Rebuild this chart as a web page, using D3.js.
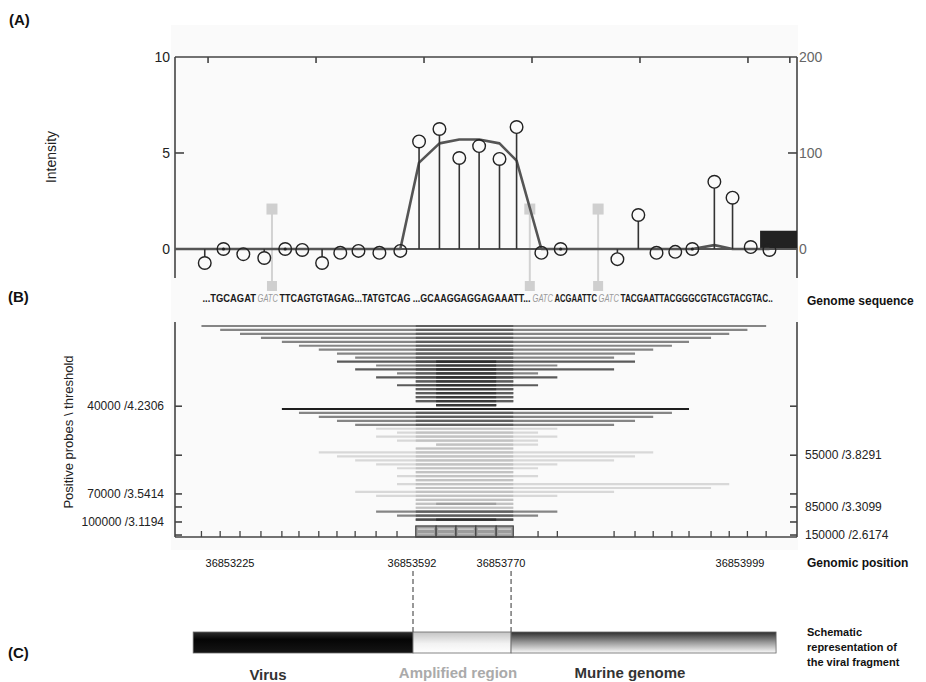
<!DOCTYPE html>
<html>
<head>
<meta charset="utf-8">
<script src="https://cdn.jsdelivr.net/npm/d3@7"></script>
<style>body{margin:0;background:#fff}</style>
</head>
<body>
<div id="canvas"></div>
<script>
const canvWidth = 926, canvHeight = 682;

// probe start positions (bp) along the tiled region
const probeStart = [36853208, 36853242, 36853278, 36853316, 36853354, 36853385, 36853421,
    36853454, 36853487, 36853525, 36853563, 36853597, 36853634, 36853670, 36853706,
    36853743, 36853774, 36853819, 36853854, 36853957, 36853995, 36854028, 36854062,
    36854093, 36854133, 36854166, 36854199, 36854233];
// probe intensity (left axis)
const intensity = [-0.73, 0, -0.27, -0.47, 0, -0.05, -0.73, -0.2, -0.1, -0.2, -0.1,
    5.6, 6.25, 4.74, 5.36, 4.69, 6.35, -0.2, 0, -0.53, 1.77, -0.2, -0.15, 0, 3.5, 2.67, 0.1, -0.05];
// smoothed signal (right axis)
const smoothed = [0, 0, 0, 0, 0, 0, 0, 0, 0, 0, 0, 90, 110, 114, 114, 110, 92, 0, 0, 0, 0, 0, 0, 0, 4, 0, 0, 0];
const gatcSites = [36853336, 36853804, 36853928];
const gatcLevel = 2.08;
const topTicks = [36853220, 36853416, 36853612, 36853808, 36854004, 36854200, 36854276];
const blockStart = 36854222, blockEnd = 36854289, blockValue = 19;

// panel B: one row per positive probe run (probe indices), tone 0 black .. 3 light
const rowLeft  = [0, 1, 2, 3, 4, 5, 6, 7, 8, 7, 9, 8, 10, 9, 11, 10, 11, 11, 11, 11, 12,
    4, 5, 6, 7, 8, 9, 10, 9, 10, 12, 11, 6, 7, 8, 9, 10, 11, 10, 11, 10, 11, 8, 9, 11, 11, 11, 9, 10, 11];
const rowRight = [27, 26, 25, 24, 23, 22, 21, 20, 19, 20, 18, 19, 17, 18, 16, 17, 16, 16, 16, 16, 15,
    23, 22, 21, 20, 19, 18, 17, 18, 17, 17, 16, 21, 20, 19, 18, 17, 16, 17, 16, 25, 24, 19, 18, 16, 16, 16, 18, 17, 16];
const rowTone  = [2, 2, 2, 2, 2, 2, 2, 2, 2, 1, 2, 1, 2, 1, 2, 1, 2, 2, 2, 2, 2,
    0, 2, 2, 2, 2, 3, 3, 3, 3, 3, 3, 3, 3, 3, 3, 3, 3, 3, 3, 3, 3, 3, 3, 3, 3, 3, 2, 2, 1];
const rowCore  = [0, 0, 0, 0, 0, 0, 0, 0, 0, 1, 1, 1, 1, 1, 1, 1, 1, 1, 1, 1, 1,
    0, 0, 0, 0, 0, 0, 0, 0, 0, 0, 0, 0, 0, 0, 0, 0, 0, 0, 0, 0, 0, 0, 0, 0, 1, 0, 0, 0, 1];
const thresholdRow = [20.3, 32.7, 42.5, 45.8, 49.6, 52.9];
const thresholdLeft = ["40000 /4.2306", "", "70000 /3.5414", "", "100000 /3.1194", ""];
const thresholdRight = ["", "55000 /3.8291", "", "85000 /3.3099", "", "150000 /2.6174"];
const ampStart = 36853592, ampEnd = 36853770;
const fragmentStart = 36853193, fragmentEnd = 36854251;
const positionLabels = ["36853225", "36853592", "36853770", "36853999"];
const sequence = [["...TGCAGAT", 0], ["GATC", 1], ["TTCAGTGTAGAG...TATGTCAG ...GCAAGGAGGAGAAATT...", 0],
    ["GATC", 1], ["ACGAATTC", 0], ["GATC", 1], ["TACGAATTACGGGCGTACGTACGTAC..", 0]];

const font = "'Liberation Sans', Arial, sans-serif";
const svg = d3.select("#canvas").append("svg")
    .attr("width", canvWidth)
    .attr("height", canvHeight)
    .style("font-family", font);

const x = d3.scaleLinear().domain([36853160, 36854289]).range([175, 797]);
const yL = d3.scaleLinear().domain([-1.6, 10]).range([279.7, 57]);
const yR = d3.scaleLinear().domain([-32, 200]).range([279.7, 57]);
const yRow = d3.scaleLinear().domain([0, 53.4]).range([326, 537]);
const probeX = i => x(probeStart[i] + 6);

svg.append("rect").attr("x", 171).attr("y", 25).attr("width", 627).attr("height", 525)
    .attr("fill", "#fafafa");

function label(t, px, py, opts) {
    const e = svg.append("text").attr("x", px).attr("y", py).text(t)
        .attr("font-size", opts.size || 12).attr("fill", opts.fill || "#222");
    if (opts.anchor) e.attr("text-anchor", opts.anchor);
    if (opts.bold) e.attr("font-weight", "bold");
    if (opts.rotate) e.attr("transform", "rotate(-90," + px + "," + py + ")");
    return e;
}
label("(A)", 9, 25, {size: 15, bold: true, fill: "#111"});
label("(B)", 8, 302, {size: 15, bold: true, fill: "#111"});
label("(C)", 8, 658, {size: 15, bold: true, fill: "#111"});

// ---------- panel A ----------
const axisCol = "#444";
const frame = svg.append("g").attr("stroke", axisCol).attr("stroke-width", 1.6);
frame.append("line").attr("x1", 175).attr("x2", 797).attr("y1", yL(10)).attr("y2", yL(10));
frame.append("line").attr("x1", 175).attr("x2", 175).attr("y1", yL(10)).attr("y2", 278);
frame.append("line").attr("x1", 797).attr("x2", 797).attr("y1", yL(10)).attr("y2", 278);
frame.append("line").attr("x1", 175).attr("x2", 184).attr("y1", yL(5)).attr("y2", yL(5));
frame.append("line").attr("x1", 788).attr("x2", 797).attr("y1", yR(100)).attr("y2", yR(100));
frame.selectAll(".tt").data(topTicks).enter().append("line")
    .attr("x1", d => x(d)).attr("x2", d => x(d)).attr("y1", yL(10)).attr("y2", yL(10) + 6);

[10, 5, 0].forEach(v => label(String(v), 170, yL(v) + 5, {size: 14, anchor: "end", fill: "#222"}));
[200, 100, 0].forEach(v => label(String(v), 799, yR(v) + 5, {size: 14, fill: "#666"}));
label("Intensity", 56, 157, {size: 14, anchor: "middle", rotate: true});

// GATC markers
const gatc = svg.append("g");
gatc.selectAll("line").data(gatcSites).enter().append("line")
    .attr("x1", d => x(d)).attr("x2", d => x(d))
    .attr("y1", yL(gatcLevel)).attr("y2", 285)
    .attr("stroke", "#d2d2d2").attr("stroke-width", 2);
gatc.selectAll(".sq1").data(gatcSites).enter().append("rect")
    .attr("x", d => x(d) - 5.5).attr("y", yL(gatcLevel) - 5.5).attr("width", 11).attr("height", 11)
    .attr("fill", "#cfcfcf");
gatc.selectAll(".sq2").data(gatcSites).enter().append("rect")
    .attr("x", d => x(d) - 5).attr("y", 281).attr("width", 10).attr("height", 10)
    .attr("fill", "#cfcfcf");

svg.append("rect")
    .attr("x", x(blockStart)).attr("width", x(blockEnd) - x(blockStart))
    .attr("y", yR(blockValue)).attr("height", yR(0) - yR(blockValue))
    .attr("fill", "#222");

svg.append("line").attr("x1", 175).attr("x2", 797).attr("y1", yL(0)).attr("y2", yL(0))
    .attr("stroke", "#555").attr("stroke-width", 2);

const smoothPts = [[x.domain()[0], 0]].concat(probeStart.map((p, i) => [p + 6, smoothed[i]]));
svg.append("path")
    .datum(smoothPts)
    .attr("d", d3.line().x(d => x(d[0])).y(d => yR(d[1])))
    .attr("fill", "none").attr("stroke", "#555").attr("stroke-width", 2.6)
    .attr("stroke-linejoin", "round");

const r = 6.3;
const pts = svg.append("g");
intensity.forEach((v, i) => {
    const cx = probeX(i), cy = yL(v), y0 = yL(0);
    const end = v > 0 ? cy + r : cy - r;
    if ((v > 0 && end < y0) || (v < 0 && end > y0)) {
        pts.append("line").attr("x1", cx).attr("x2", cx).attr("y1", y0).attr("y2", end)
            .attr("stroke", "#333").attr("stroke-width", 1.6);
    }
    pts.append("circle").attr("cx", cx).attr("cy", cy).attr("r", r)
        .attr("fill", "none").attr("stroke", "#222").attr("stroke-width", 1.4);
    if (Math.abs(v) < 0.03) {
        pts.append("circle").attr("cx", cx).attr("cy", cy).attr("r", 1.6).attr("fill", "#222");
    }
});

// ---------- panel B ----------
// sequence pieces laid out one after another, squeezed horizontally to fit
const seqLeft = 202, seqWidth = 572;
const nChars = d3.sum(sequence, s => s[0].length);
let cursor = seqLeft;
sequence.forEach(s => {
    const w = s[0].length * seqWidth / nChars;
    const t = svg.append("text").attr("x", 0).attr("y", 0).text(s[0])
        .attr("font-size", 10)
        .attr("fill", s[1] ? "#9a9a9a" : "#1a1a1a")
        .attr("font-weight", s[1] ? "normal" : "bold");
    if (s[1]) t.attr("font-style", "italic");
    const natural = t.node().getComputedTextLength();
    const sx = (w - 1.5) / natural;
    t.attr("transform", "translate(" + (cursor + 0.5) + ",302) scale(" + sx + ",1)");
    cursor += w;
});
label("Genome sequence", 807, 305, {size: 12, bold: true, fill: "#111"});

const toneOuter = ["#1e1e1e", "#5a5a5a", "#858585", "#d8d8d8"];
const toneMid = ["#1e1e1e", "#4a4a4a", "#5e5e5e", "#c2c2c2"];
const toneCore = ["#1e1e1e", "#2e2e2e", "#3a3a3a", "#a0a0a0"];
const rows = svg.append("g").attr("stroke-width", 2.2);
rowLeft.forEach((L, i) => {
    const R = rowRight[i], t = rowTone[i], yy = yRow(i);
    const seg = (a, b, c) => rows.append("line")
        .attr("x1", x(probeStart[a])).attr("x2", x(probeStart[b]))
        .attr("y1", yy).attr("y2", yy).attr("stroke", c);
    seg(L, R, toneOuter[t]);
    seg(Math.max(L, 11), Math.min(R, 16), toneMid[t]);
    if (rowCore[i]) seg(Math.max(L, 12), Math.min(R, 15), toneCore[t]);
});

const box = svg.append("g");
for (let k = 11; k < 16; k++) {
    const x0 = x(probeStart[k]), x1 = x(probeStart[k + 1]);
    box.append("rect").attr("x", x0).attr("width", x1 - x0)
        .attr("y", yRow(50.6)).attr("height", yRow(53.4) - yRow(50.6))
        .attr("fill", "#9c9c9c").attr("stroke", "#444").attr("stroke-width", 1.2);
    box.append("line").attr("x1", x0 + 2).attr("x2", x1 - 2)
        .attr("y1", yRow(51.4)).attr("y2", yRow(51.4)).attr("stroke", "#d8d8d8").attr("stroke-width", 1.2);
    box.append("line").attr("x1", x0 + 2).attr("x2", x1 - 2)
        .attr("y1", yRow(52.6)).attr("y2", yRow(52.6)).attr("stroke", "#c8c8c8").attr("stroke-width", 1);
}

const frameB = svg.append("g").attr("stroke", axisCol).attr("stroke-width", 1.6);
frameB.append("line").attr("x1", 175).attr("x2", 175).attr("y1", 322).attr("y2", yRow(53.4));
frameB.append("line").attr("x1", 797).attr("x2", 797).attr("y1", 322).attr("y2", yRow(53.4));
frameB.append("line").attr("x1", 175).attr("x2", 797).attr("y1", yRow(53.4)).attr("y2", yRow(53.4));
thresholdRow.forEach(t => {
    frameB.append("line").attr("x1", 175).attr("x2", 182).attr("y1", yRow(t)).attr("y2", yRow(t));
    frameB.append("line").attr("x1", 790).attr("x2", 797).attr("y1", yRow(t)).attr("y2", yRow(t));
});
probeStart.forEach((p, i) => {
    if (i >= 11 && i <= 16) return;
    frameB.append("line").attr("x1", x(p)).attr("x2", x(p))
        .attr("y1", yRow(53.4)).attr("y2", yRow(53.4) - 6).attr("stroke-width", 1.3);
});
thresholdRow.forEach((t, i) => {
    if (thresholdLeft[i]) label(thresholdLeft[i], 164, yRow(t) + 4, {size: 12, anchor: "end"});
    if (thresholdRight[i]) label(thresholdRight[i], 805, yRow(t) + 4, {size: 12});
});
label("Positive probes \\ threshold", 73, 432, {size: 13, anchor: "middle", rotate: true});

// ---------- panel C ----------
const labelCx = [230, 412, 501, 740];
positionLabels.forEach((t, i) => label(t, labelCx[i], 567, {size: 11, anchor: "middle", fill: "#111"}));
label("Genomic position", 807, 567, {size: 12, bold: true, fill: "#111"});

svg.selectAll(".dash").data([ampStart, ampEnd]).enter().append("line")
    .attr("x1", d => x(d)).attr("x2", d => x(d)).attr("y1", 571).attr("y2", 632)
    .attr("stroke", "#555").attr("stroke-width", 1.2).attr("stroke-dasharray", "5,3");

const defs = svg.append("defs");
function grad(id, stops) {
    const g = defs.append("linearGradient").attr("id", id)
        .attr("x1", 0).attr("x2", 0).attr("y1", 0).attr("y2", 1);
    stops.forEach(s => g.append("stop").attr("offset", s[0]).attr("stop-color", s[1]));
}
grad("gVirus", [[0, "#2c2c2c"], [0.35, "#050505"], [1, "#151515"]]);
grad("gAmp", [[0, "#c4c4c4"], [0.55, "#f2f2f2"], [1, "#ffffff"]]);
grad("gMur", [[0, "#2e2e2e"], [0.5, "#9a9a9a"], [1, "#fbfbfb"]]);

const segs = [[fragmentStart, ampStart, "gVirus"], [ampStart, ampEnd, "gAmp"], [ampEnd, fragmentEnd, "gMur"]];
svg.selectAll(".frag").data(segs).enter().append("rect")
    .attr("x", d => x(d[0])).attr("width", d => x(d[1]) - x(d[0]))
    .attr("y", 632).attr("height", 21)
    .attr("fill", d => "url(#" + d[2] + ")")
    .attr("stroke", "#666").attr("stroke-width", 0.8);

label("Virus", 268, 680, {size: 15, bold: true, anchor: "middle", fill: "#333"});
label("Amplified region", 458, 678, {size: 15, bold: true, anchor: "middle", fill: "#aaaaaa"});
label("Murine genome", 630, 678, {size: 15, bold: true, anchor: "middle", fill: "#333"});
label("Schematic", 807, 636, {size: 11, bold: true, fill: "#111"});
label("representation of", 807, 651, {size: 11, bold: true, fill: "#111"});
label("the viral fragment", 807, 666, {size: 11, bold: true, fill: "#111"});
</script>
</body>
</html>
